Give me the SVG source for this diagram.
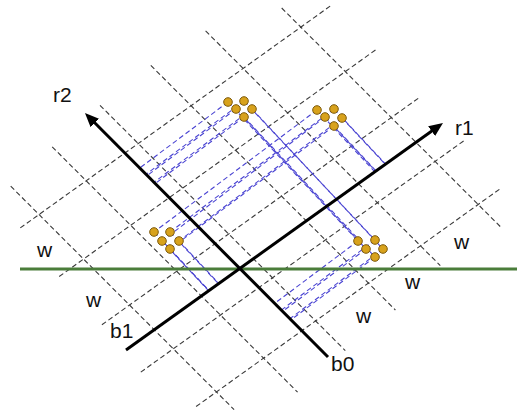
<svg xmlns="http://www.w3.org/2000/svg" width="517" height="412" viewBox="0 0 517 412">
<style>
.grid line{stroke:#3a3a3a;stroke-width:1.1;stroke-dasharray:5 3;fill:none}
.proj line{stroke:#4a44d2;stroke-width:1.1;stroke-dasharray:5 3;fill:none}
.axis{stroke:#000;stroke-width:3;fill:none}
.dot{fill:#d8a21c;stroke:#7d5a0c;stroke-width:1}
.lbl{font-family:"Liberation Sans",Arial,sans-serif;font-size:21px;fill:#111}
</style>
<defs>
<marker id="arr" markerUnits="userSpaceOnUse" markerWidth="15" markerHeight="12" refX="8" refY="6" orient="auto">
<path d="M0,0 L14,6 L0,12 Z" fill="#000"/>
</marker>
</defs>
<rect width="517" height="412" fill="#fff"/>
<g id="grid" class="grid">
<line x1="20.3" y1="227.9" x2="330.9" y2="5.6"/>
<line x1="59.2" y1="276.5" x2="377" y2="48.9"/>
<line x1="101.9" y1="324.8" x2="419.8" y2="97.2"/>
<line x1="140.8" y1="372.1" x2="463.6" y2="141"/>
<line x1="196.1" y1="406.5" x2="501.8" y2="187.6"/>
<line x1="10.7" y1="186.2" x2="234.1" y2="409.6"/>
<line x1="52.2" y1="146.8" x2="297.6" y2="392.2"/>
<line x1="100" y1="105.3" x2="345.3" y2="350.6"/>
<line x1="150.8" y1="65.4" x2="395.4" y2="310"/>
<line x1="205.6" y1="30.9" x2="440.3" y2="265.6"/>
<line x1="281.7" y1="8" x2="502.3" y2="228.6"/>
</g>
<g id="connectors">
<g class="proj">
<line x1="228" y1="102" x2="358" y2="241"/>
<line x1="244" y1="101" x2="375" y2="240"/>
<line x1="236" y1="109" x2="366" y2="249"/>
<line x1="252" y1="109" x2="383" y2="249"/>
<line x1="244" y1="117" x2="375" y2="257"/>
<line x1="317" y1="110" x2="154" y2="232"/>
<line x1="334" y1="109" x2="170" y2="232"/>
<line x1="325" y1="117" x2="162" y2="241"/>
<line x1="342" y1="118" x2="179" y2="241"/>
<line x1="334" y1="126" x2="170" y2="249"/>
<line x1="228" y1="102" x2="139.4" y2="168.3"/>
<line x1="244" y1="101" x2="145.6" y2="174.6"/>
<line x1="236" y1="109" x2="146.8" y2="175.8"/>
<line x1="252" y1="109" x2="153.6" y2="182.6"/>
<line x1="244" y1="117" x2="154.8" y2="183.8"/>
<line x1="358" y1="241" x2="274.5" y2="303.5"/>
<line x1="375" y1="240" x2="281.2" y2="310.2"/>
<line x1="366" y1="249" x2="282.5" y2="311.5"/>
<line x1="383" y1="249" x2="289.8" y2="318.8"/>
<line x1="375" y1="257" x2="290.9" y2="319.9"/>
<line x1="317" y1="110" x2="374.8" y2="171.8"/>
<line x1="334" y1="109" x2="385.6" y2="164.1"/>
<line x1="325" y1="117" x2="375.7" y2="171.2"/>
<line x1="342" y1="118" x2="385.3" y2="164.3"/>
<line x1="334" y1="126" x2="376.1" y2="171"/>
<line x1="154" y1="232" x2="208.9" y2="290.6"/>
<line x1="170" y1="232" x2="218.5" y2="283.8"/>
<line x1="162" y1="241" x2="208.6" y2="290.8"/>
<line x1="179" y1="241" x2="218.8" y2="283.5"/>
<line x1="170" y1="249" x2="208.9" y2="290.6"/>
</g>
<line id="w-line" x1="20" y1="269" x2="517" y2="269" stroke="#4a7d3a" stroke-width="3"/>
<line id="axis-r1" class="axis" x1="126" y1="350" x2="438.1" y2="126.5" marker-end="url(#arr)"/>
<line id="axis-r2" class="axis" x1="328" y1="357" x2="89.2" y2="117.3" marker-end="url(#arr)"/>
</g>
<g id="cluster-top">
<circle class="dot" cx="228" cy="102" r="4.3"/><circle class="dot" cx="244" cy="101" r="4.3"/><circle class="dot" cx="236" cy="109" r="4.3"/><circle class="dot" cx="252" cy="109" r="4.3"/><circle class="dot" cx="244" cy="117" r="4.3"/>
</g>
<g id="cluster-topright">
<circle class="dot" cx="317" cy="110" r="4.3"/><circle class="dot" cx="334" cy="109" r="4.3"/><circle class="dot" cx="325" cy="117" r="4.3"/><circle class="dot" cx="342" cy="118" r="4.3"/><circle class="dot" cx="334" cy="126" r="4.3"/>
</g>
<g id="cluster-left">
<circle class="dot" cx="154" cy="232" r="4.3"/><circle class="dot" cx="170" cy="232" r="4.3"/><circle class="dot" cx="162" cy="241" r="4.3"/><circle class="dot" cx="179" cy="241" r="4.3"/><circle class="dot" cx="170" cy="249" r="4.3"/>
</g>
<g id="cluster-right">
<circle class="dot" cx="358" cy="241" r="4.3"/><circle class="dot" cx="375" cy="240" r="4.3"/><circle class="dot" cx="366" cy="249" r="4.3"/><circle class="dot" cx="383" cy="249" r="4.3"/><circle class="dot" cx="375" cy="257" r="4.3"/>
</g>
<g id="labels">
<text class="lbl" x="53" y="102">r2</text>
<text class="lbl" x="455" y="135">r1</text>
<text class="lbl" x="110" y="338">b1</text>
<text class="lbl" x="331" y="371">b0</text>
<text class="lbl" x="37" y="257">w</text>
<text class="lbl" x="86" y="307">w</text>
<text class="lbl" x="454" y="249">w</text>
<text class="lbl" x="405" y="289">w</text>
<text class="lbl" x="356" y="323">w</text>
</g>
</svg>
